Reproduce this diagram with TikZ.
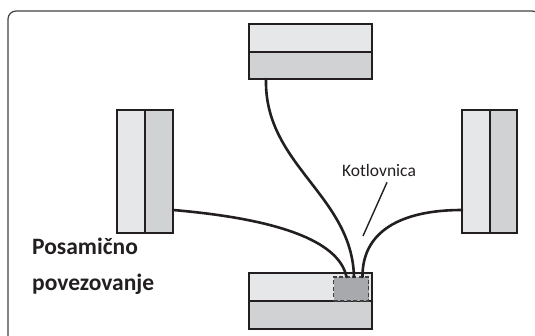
\documentclass[tikz,border=0pt]{standalone}
\usepackage{fontspec}
\setmainfont{Carlito}
\usetikzlibrary{calc}
\definecolor{boxline}{HTML}{231F20}
\definecolor{lightfill}{HTML}{E6E7E8}
\definecolor{darkfill}{HTML}{D1D2D4}
\definecolor{kotfill}{HTML}{A7A9AC}
\definecolor{framecol}{HTML}{414042}
\definecolor{txt}{HTML}{231F20}
\tikzset{
  panel/.style={draw=boxline, line width=1.1pt, inner sep=0pt, outer sep=0pt},
  lightpanel/.style={panel, fill=lightfill},
  darkpanel/.style={panel, fill=darkfill},
  kotbox/.style={draw=framecol, line width=1.1pt, dashed, dash pattern=on 4pt off 2.5pt, fill=kotfill, inner sep=0pt, outer sep=0pt},
  cable/.style={draw=boxline, line width=2.6pt, line cap=round},
  pointer/.style={draw=boxline, line width=1.4pt},
}
\begin{document}
\begin{tikzpicture}[x=1pt,y=-1pt]
\useasboundingbox (0,0) rectangle (535,336);
\clip (0,0) rectangle (535,336);
\draw[framecol, line width=1.2pt, rounded corners=8pt] (8,11) rectangle (540,360);
% top unit
\node[lightpanel, minimum width=123pt, minimum height=28pt] (topU) at (310.5,38) {};
\node[darkpanel, minimum width=123pt, minimum height=27pt] (topL) at (310.5,65.5) {};
% left unit
\node[lightpanel, minimum width=28pt, minimum height=123pt] (leftA) at (131,171.5) {};
\node[darkpanel, minimum width=28pt, minimum height=123pt] (leftB) at (159,171.5) {};
% right unit
\node[lightpanel, minimum width=28pt, minimum height=123pt] (rightA) at (476,171.5) {};
\node[darkpanel, minimum width=27pt, minimum height=123pt] (rightB) at (503.5,171.5) {};
% bottom unit
\node[lightpanel, minimum width=123pt, minimum height=28pt] (botU) at (310.5,287) {};
\node[darkpanel, minimum width=123pt, minimum height=28pt] (botL) at (310.5,315) {};
\node[kotbox, minimum width=35pt, minimum height=24pt] (kot) at (351,289) {};
% cables
\draw[cable] ($(leftB.south east)+(0,-23)$) .. controls (290,220) and (340,245) .. ($(kot.north)+(-4.5,0)$);
\draw[cable] ($(topL.south west)+(17,0)$) .. controls (264,165) and (352,195) .. ($(kot.north)+(3,0)$);
\draw[cable] ($(rightA.south west)+(0,-23)$) .. controls (400,210) and (362,232) .. ($(kot.north)+(11.5,0)$);
% label
\node[text=txt, font=\fontsize{17.5}{20}\selectfont, inner sep=0pt] (kotlabel) at (379,170) {Kotlovnica};
\coordinate (ptrend) at (363,236);
\draw[pointer] ($(kotlabel.south)+(8,6)$) -- (ptrend);
\node[text=txt, font=\fontsize{23.5}{36}\selectfont\bfseries, align=left, anchor=north west, inner sep=0pt] (title) at (32,238) {Posamično\\povezovanje};
\end{tikzpicture}
\end{document}
